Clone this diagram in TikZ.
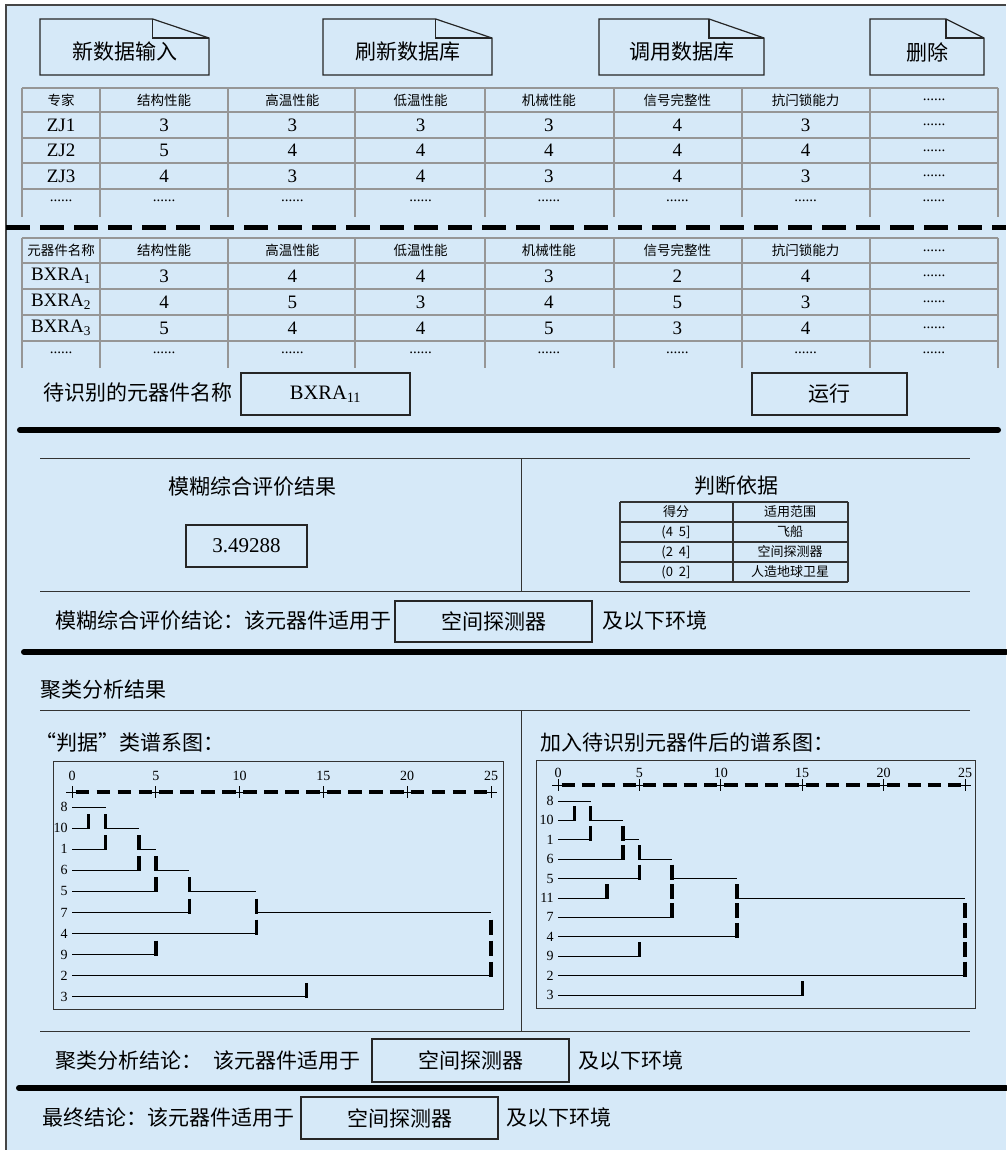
\documentclass[tikz,border=0pt]{standalone}
\usepackage{fontspec}
\setmainfont{Liberation Serif}
\newfontfamily\cjk{Noto Sans CJK SC}
\usetikzlibrary{positioning}

\definecolor{panelblue}{RGB}{214,233,248}
\definecolor{framegray}{RGB}{70,70,70}
\definecolor{gridgray}{RGB}{150,150,150}

\newcommand{\zh}[1]{\fontsize{#1}{#1}\selectfont\cjk}
\newcommand{\en}[1]{\fontsize{#1}{#1}\selectfont}

% left, top, right, bottom
\newcommand{\foldbox}[4]{%
  \draw[docbox] (#1,#2) -- ({#3-(#3-#1)/3},#2) -- (#3,#2+19) -- (#3,#4) -- (#1,#4) -- cycle;
  \draw[docbox] ({#3-(#3-#1)/3},#2) -- ({#3-(#3-#1)/3},#2+19) -- (#3,#2+19);
}

\tikzset{
  docbox/.style={draw=black!85, line width=1.2pt},
  valbox/.style={draw=black!85, line width=1.3pt, inner sep=0pt},
  biglabel/.style={font=\zh{21}, inner sep=0pt},
  headcell/.style={font=\zh{13.5}, inner sep=0pt},
  numcell/.style={font=\en{19}, inner sep=0pt},
  dotcell/.style={font=\en{15}, inner sep=0pt},
  smallcell/.style={font=\zh{13}, inner sep=0pt},
  gridline/.style={draw=gridgray, line width=1.3pt},
  keyline/.style={draw=black!80, line width=1.3pt},
  thinrule/.style={draw=black!80, line width=1pt},
  thickrule/.style={line width=6pt, line cap=round},
  stem/.style={line width=1pt},
  joinbar/.style={line width=3.4pt},
  axisdash/.style={line width=3.5pt},
  dnum/.style={font=\en{14}, inner sep=0pt},
}

\begin{document}
\begin{tikzpicture}[x=1pt,y=-1pt]
\useasboundingbox (0,0) rectangle (1006,1150);
\fill[panelblue] (6,5) rectangle (1006,1150);
\draw[framegray, line width=2pt] (6,1150) -- (6,5) -- (1006,5);

% buttons
\foldbox{40}{19}{209}{75}
\foldbox{323}{19}{492}{75}
\foldbox{599}{19}{764}{75}
\foldbox{870}{19}{984}{75}
\node[biglabel] (newdata) at (124.5,52) {新数据输入};
\node[biglabel] (refresh) at (407.5,52) {刷新数据库};
\node[biglabel] (calldb) at (681.5,52) {调用数据库};
\node[biglabel] (delete) at (927,52) {删除};

% expert table
\foreach \x in {22,100,228,355,485,614,742,870,998}
  \draw[gridline] (\x,88) -- (\x,217);
\foreach \y in {88,112,138,163,189}
  \draw[gridline] (22,\y) -- (998,\y);
\foreach \t [count=\c] in {专家,结构性能,高温性能,低温性能,机械性能,信号完整性,抗闩锁能力} {
  \pgfmathsetmacro\cx{\c==1 ? 61 : 164+128.33*(\c-2)}
  \node[headcell] (eh\c) at (\cx,100) {\t};
}
\node[dotcell] (eh8) at (934,100) {......};
\foreach \y/\vals [count=\r] in {125/{ZJ1,3,3,3,3,4,3}, 150.5/{ZJ2,5,4,4,4,4,4}, 176/{ZJ3,4,3,4,3,4,3}} {
  \foreach \v [count=\c] in \vals {
    \pgfmathsetmacro\cx{\c==1 ? 61 : 164+128.33*(\c-2)}
    \node[numcell] (e\r c\c) at (\cx,\y) {\v};
  }
  \node[dotcell] (e\r c8) at (934,\y) {......};
}
\foreach \c in {1,...,8} {
  \pgfmathsetmacro\cx{\c==1 ? 61 : 164+128.33*(\c-2)}
  \node[dotcell] (e4c\c) at (\cx,201) {......};
}

\draw[line width=5pt, dash pattern=on 24pt off 10pt] (6,228) -- (1006,228);

% component table
\foreach \x in {22,100,228,355,485,614,742,870,998}
  \draw[gridline] (\x,238) -- (\x,368);
\foreach \y in {238,263,289,315,341}
  \draw[gridline] (22,\y) -- (998,\y);
\foreach \t [count=\c] in {元器件名称,结构性能,高温性能,低温性能,机械性能,信号完整性,抗闩锁能力} {
  \pgfmathsetmacro\cx{\c==1 ? 61 : 164+128.33*(\c-2)}
  \node[headcell] (ch\c) at (\cx,250.5) {\t};
}
\node[dotcell] (ch8) at (934,250.5) {......};
\foreach \y/\vals [count=\r] in {276/{BXRA\textsubscript{1},3,4,4,3,2,4}, 302/{BXRA\textsubscript{2},4,5,3,4,5,3}, 328/{BXRA\textsubscript{3},5,4,4,5,3,4}} {
  \foreach \v [count=\c] in \vals {
    \pgfmathsetmacro\cx{\c==1 ? 61 : 164+128.33*(\c-2)}
    \node[numcell] (c\r c\c) at (\cx,\y) {\v};
  }
  \node[dotcell] (c\r c8) at (934,\y) {......};
}
\foreach \c in {1,...,8} {
  \pgfmathsetmacro\cx{\c==1 ? 61 : 164+128.33*(\c-2)}
  \node[dotcell] (c4c\c) at (\cx,353) {......};
}

\node[biglabel, anchor=west] (pending) at (43,393) {待识别的元器件名称};
\node[valbox, minimum width=169pt, minimum height=42pt, font=\en{20.5}] (pendname) at (325.5,394) {BXRA\textsubscript{11}};
\node[valbox, minimum width=155pt, minimum height=42pt, font=\zh{21}] (runbtn) at (829.5,394) {运行};

\draw[thickrule] (20,430) -- (998,430);

% fuzzy evaluation
\draw[thinrule] (40,458) -- (970,458);
\draw[thinrule] (40,591) -- (970,591);
\draw[thinrule] (521,458) -- (521,591);
\node[biglabel] (fzres) at (252,487) {模糊综合评价结果};
\node[valbox, minimum width=121pt, minimum height=42pt, font=\en{21}] (fzval) at (246.5,546) {3.49288};
\node[biglabel] (basis) at (736,486) {判断依据};
\foreach \x in {620,733,848}
  \draw[keyline] (\x,502) -- (\x,582);
\foreach \y in {502,522,542,562,582}
  \draw[keyline] (620,\y) -- (848,\y);
\foreach \y/\s/\t [count=\r] in {512/得分/适用范围, 532/{\en{13}(4\ \ 5]}/飞船, 552/{\en{13}(2\ \ 4]}/空间探测器, 572/{\en{13}(0\ \ 2]}/人造地球卫星} {
  \node[smallcell] (ks\r) at (676,\y) {\s};
  \node[smallcell] (kr\r) at (790,\y) {\t};
}
\node[biglabel, anchor=west] (fzcon) at (55,621) {模糊综合评价结论：该元器件适用于};
\node[valbox, minimum width=197pt, minimum height=41pt, font=\zh{21}] (fzbox) at (493.5,621.5) {空间探测器};
\node[biglabel, anchor=west] (fzenv) at (602,621) {及以下环境};

\draw[thickrule] (24,652) -- (1006,652);

% cluster analysis
\node[biglabel, anchor=west] (cltitle) at (40,690) {聚类分析结果};
\draw[thinrule] (40,710) -- (970,710);
\draw[thinrule] (40,1031) -- (970,1031);
\draw[thinrule] (521,710) -- (521,1031);
\node[biglabel, anchor=west] (lefttitle) at (35,743) {“判据”类谱系图：};
\node[biglabel, anchor=west] (righttitle) at (540,743) {加入待识别元器件后的谱系图：};
\draw[thinrule] (53,761) rectangle (503,1009);
\draw[thinrule] (536,760) rectangle (975,1008);

\begin{scope}[xshift=72pt, x=16.76pt]
  \foreach \s in {0,5,...,20}
    \foreach \k in {0,...,3}
      \draw[axisdash] ({\s+1.25*\k+0.22},792) -- ({\s+1.25*\k+1.03},792);
  \foreach \t in {0,5,...,25} {
    \draw[stem] (\t,792) ++(-6pt,0) -- ++(12pt,0);
    \draw[stem] (\t,786) -- (\t,798);
    \node[dnum, anchor=south] (ltick\t) at (\t,781) {\t};
  }
  \foreach \lab [count=\i from 0] in {8,10,1,6,5,7,4,9,2,3}
    \node[dnum, anchor=east] (lrow\lab) at (-0.25,{807+21.1*\i}) {\lab};
  \foreach \i/\a/\b in {0/0/2, 1/0/1, 1/2/4, 2/0/2, 2/4/5, 3/0/4, 3/5/7, 4/0/5, 4/7/11, 5/0/7, 5/11/25, 6/0/11, 7/0/5, 8/0/25, 9/0/14}
    \draw[stem] (\a,{807+21.1*\i}) -- (\b,{807+21.1*\i});
  \foreach \i/\a in {1/1, 1/2, 2/2, 2/4, 3/4, 3/5, 4/5, 4/7, 5/7, 5/11, 6/11, 6/25, 7/5, 7/25, 8/25, 9/14}
    \draw[joinbar] (\a,{807+21.1*\i-14}) -- (\a,{807+21.1*\i+1});
\end{scope}

\begin{scope}[xshift=558pt, x=16.28pt]
  \foreach \s in {0,5,...,20}
    \foreach \k in {0,...,3}
      \draw[axisdash] ({\s+1.25*\k+0.22},785) -- ({\s+1.25*\k+1.03},785);
  \foreach \t in {0,5,...,25} {
    \draw[stem] (\t,785) ++(-6pt,0) -- ++(12pt,0);
    \draw[stem] (\t,779) -- (\t,791);
    \node[dnum, anchor=south] (rtick\t) at (\t,778) {\t};
  }
  \foreach \lab [count=\i from 0] in {8,10,1,6,5,11,7,4,9,2,3}
    \node[dnum, anchor=east] (rrow\lab) at (-0.25,{801+19.4*\i}) {\lab};
  \foreach \i/\a/\b in {0/0/2, 1/0/1, 1/2/4, 2/0/2, 2/4/5, 3/0/4, 3/5/7, 4/0/5, 4/7/11, 5/0/3, 5/11/25, 6/0/7, 7/0/11, 8/0/5, 9/0/25, 10/0/15}
    \draw[stem] (\a,{801+19.4*\i}) -- (\b,{801+19.4*\i});
  \foreach \i/\a in {1/1, 1/2, 2/2, 2/4, 3/4, 3/5, 4/5, 4/7, 5/3, 5/7, 5/11, 6/7, 6/11, 6/25, 7/11, 7/25, 8/5, 8/25, 9/25, 10/15}
    \draw[joinbar] (\a,{801+19.4*\i-14}) -- (\a,{801+19.4*\i+1});
\end{scope}

\node[biglabel, anchor=west] (clcon) at (55,1061) {聚类分析结论：\hspace{11pt}该元器件适用于};
\node[valbox, minimum width=197pt, minimum height=43pt, font=\zh{21}] (clbox) at (470.5,1060.5) {空间探测器};
\node[biglabel, anchor=west] (clenv) at (578,1061) {及以下环境};

\draw[thickrule] (19,1088) -- (1006,1088);

\node[biglabel, anchor=west] (final) at (42,1118) {最终结论：该元器件适用于};
\node[valbox, minimum width=197pt, minimum height=42pt, font=\zh{21}] (finalbox) at (399.5,1118) {空间探测器};
\node[biglabel, anchor=west] (finalenv) at (506,1118) {及以下环境};
\end{tikzpicture}
\end{document}
